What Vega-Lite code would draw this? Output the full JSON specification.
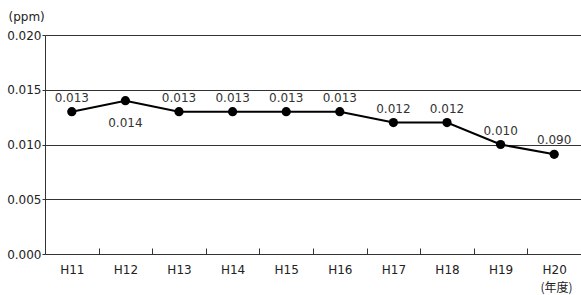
{
  "$schema": "https://vega.github.io/schema/vega-lite/v6.json",
  "width": 536,
  "height": 219,
  "autosize": "none",
  "padding": {"left": 45, "top": 35, "right": 0, "bottom": 41},
  "background": "white",
  "config": {
    "view": {"stroke": null},
    "font": "DejaVu Sans",
    "axis": {"labelFont": "DejaVu Sans", "titleFont": "Noto Sans CJK JP"}
  },
  "data": {
    "values": [
      {"year": "H11", "value": 0.013, "label": "0.013"},
      {"year": "H12", "value": 0.014, "label": "0.014"},
      {"year": "H13", "value": 0.013, "label": "0.013"},
      {"year": "H14", "value": 0.013, "label": "0.013"},
      {"year": "H15", "value": 0.013, "label": "0.013"},
      {"year": "H16", "value": 0.013, "label": "0.013"},
      {"year": "H17", "value": 0.012, "label": "0.012"},
      {"year": "H18", "value": 0.012, "label": "0.012"},
      {"year": "H19", "value": 0.010, "label": "0.010"},
      {"year": "H20", "value": 0.0091, "label": "0.090"}
    ]
  },
  "encoding": {
    "x": {
      "field": "year",
      "type": "nominal",
      "sort": null,
      "scale": {"type": "band", "paddingInner": 0, "paddingOuter": 0},
      "axis": {
        "title": "(年度)",
        "titleFontSize": 12,
        "titleFontWeight": "normal",
        "titleColor": "#222",
        "titleX": 511,
        "titleY": 33,
        "titleAlign": "center",
        "titleBaseline": "middle",
        "labelAngle": 0,
        "labelFontSize": 12,
        "labelColor": "#222",
        "labelPadding": 16,
        "domain": false,
        "grid": false,
        "tickBand": "extent",
        "tickSize": -6,
        "tickColor": "#333",
        "tickWidth": 1
      }
    },
    "y": {
      "field": "value",
      "type": "quantitative",
      "scale": {"domain": [0, 0.02], "nice": false, "zero": true},
      "axis": {
        "values": [0, 0.005, 0.01, 0.015, 0.02],
        "format": ".3f",
        "title": "(ppm)",
        "titleFont": "DejaVu Sans",
        "titleFontSize": 12,
        "titleFontWeight": "normal",
        "titleColor": "#222",
        "titleAngle": 0,
        "titleAlign": "left",
        "titleBaseline": "middle",
        "titleX": -37,
        "titleY": -19,
        "labelFontSize": 12,
        "labelColor": "#222",
        "labelPadding": 1,
        "tickSize": 3,
        "tickColor": "#333",
        "domain": true,
        "domainColor": "#333",
        "domainWidth": 1,
        "grid": true,
        "gridColor": "#333",
        "gridOpacity": 1,
        "gridWidth": 1
      }
    }
  },
  "layer": [
    {"mark": {"type": "line", "color": "#000", "strokeWidth": 2}},
    {"mark": {"type": "point", "filled": true, "color": "#000", "size": 85, "opacity": 1}},
    {
      "transform": [{"filter": "datum.year !== 'H12'"}],
      "mark": {"type": "text", "dy": -14, "fontSize": 12, "color": "#333", "baseline": "middle"},
      "encoding": {"text": {"field": "label"}}
    },
    {
      "transform": [{"filter": "datum.year === 'H12'"}],
      "mark": {"type": "text", "dy": 22, "fontSize": 12, "color": "#333", "baseline": "middle"},
      "encoding": {"text": {"field": "label"}}
    }
  ]
}
